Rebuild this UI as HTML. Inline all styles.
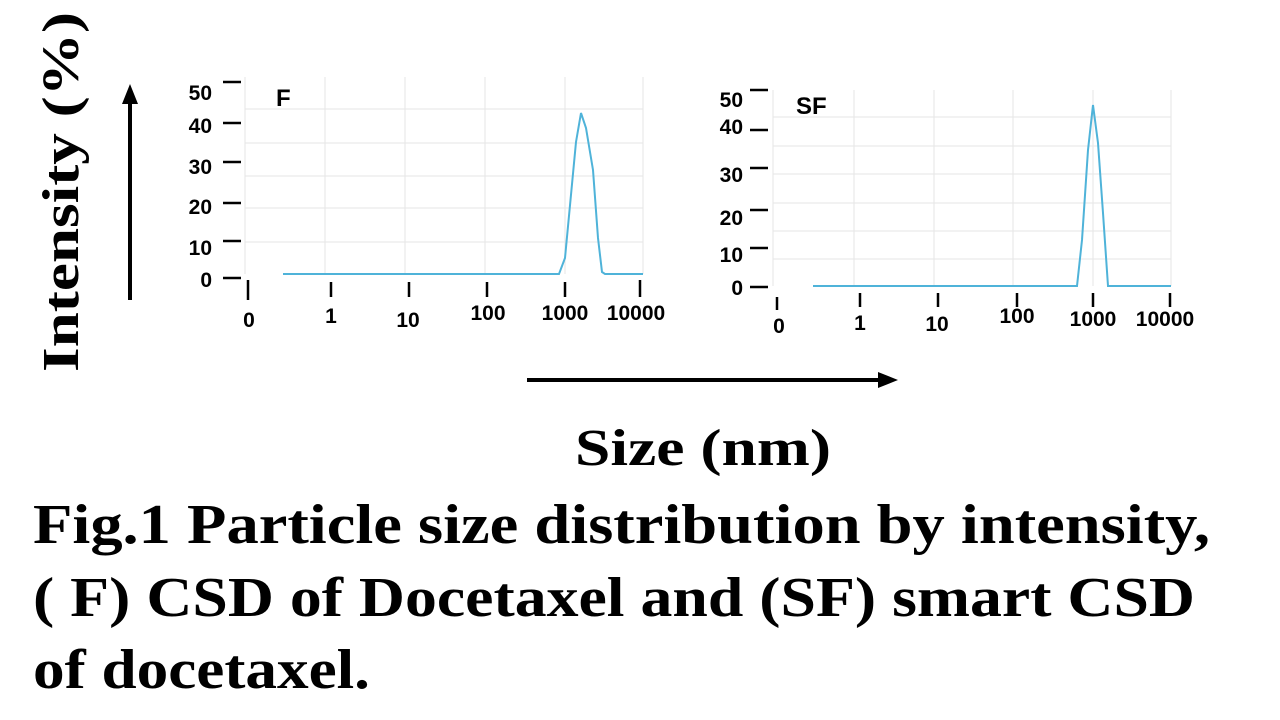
<!DOCTYPE html>
<html><head><style>html,body{margin:0;padding:0;background:#fff}svg{display:block}</style></head><body>
<svg width="1280" height="720" viewBox="0 0 1280 720" xmlns="http://www.w3.org/2000/svg">
<rect width="1280" height="720" fill="#fff"/>
<g stroke="#e6e6e6" stroke-width="1">
<line x1="245" y1="109" x2="643" y2="109"/><line x1="245" y1="143" x2="643" y2="143"/><line x1="245" y1="176" x2="643" y2="176"/><line x1="245" y1="208" x2="643" y2="208"/><line x1="245" y1="242" x2="643" y2="242"/>
<line x1="325" y1="77" x2="325" y2="274"/><line x1="405" y1="77" x2="405" y2="274"/><line x1="485" y1="77" x2="485" y2="274"/><line x1="565" y1="77" x2="565" y2="274"/><line x1="643" y1="77" x2="643" y2="274"/><line x1="245" y1="77" x2="245" y2="274"/>
<line x1="773" y1="117" x2="1171" y2="117"/><line x1="773" y1="146" x2="1171" y2="146"/><line x1="773" y1="174" x2="1171" y2="174"/><line x1="773" y1="203" x2="1171" y2="203"/><line x1="773" y1="231" x2="1171" y2="231"/><line x1="773" y1="259" x2="1171" y2="259"/>
<line x1="854" y1="90" x2="854" y2="286"/><line x1="934" y1="90" x2="934" y2="286"/><line x1="1013" y1="90" x2="1013" y2="286"/><line x1="1093" y1="90" x2="1093" y2="286"/><line x1="1171" y1="90" x2="1171" y2="286"/><line x1="773" y1="90" x2="773" y2="286"/>
</g>
<polyline fill="none" stroke="#4fb3d9" stroke-width="2" points="283,274 559,274 565,258 576,142 581,113 586,128 593,170 598,238 602,272 605,274 643,274"/>
<polyline fill="none" stroke="#4fb3d9" stroke-width="2" points="813,286 1077,286 1082,240 1088,150 1093,105 1098,143 1103,213 1108,286 1171,286"/>
<g stroke="#000" stroke-width="2.5">
<line x1="223" y1="82" x2="241" y2="82"/><line x1="223" y1="123" x2="241" y2="123"/><line x1="223" y1="162" x2="241" y2="162"/><line x1="223" y1="203" x2="241" y2="203"/><line x1="223" y1="241" x2="241" y2="241"/><line x1="223" y1="278" x2="241" y2="278"/>
<line x1="248" y1="280" x2="248" y2="300"/><line x1="331" y1="282" x2="331" y2="297"/><line x1="409" y1="282" x2="409" y2="297"/><line x1="487" y1="282" x2="487" y2="297"/><line x1="565" y1="282" x2="565" y2="297"/><line x1="640" y1="280" x2="640" y2="297"/>
<line x1="750" y1="90" x2="768" y2="90"/><line x1="750" y1="130" x2="768" y2="130"/><line x1="750" y1="168" x2="768" y2="168"/><line x1="750" y1="210" x2="768" y2="210"/><line x1="750" y1="248" x2="768" y2="248"/><line x1="750" y1="287" x2="768" y2="287"/>
<line x1="777" y1="297" x2="777" y2="310"/><line x1="860" y1="293" x2="860" y2="307"/><line x1="938" y1="293" x2="938" y2="307"/><line x1="1017" y1="293" x2="1017" y2="307"/><line x1="1093" y1="293" x2="1093" y2="307"/><line x1="1170" y1="293" x2="1170" y2="307"/>
</g>
<g font-family="Liberation Sans, sans-serif" font-weight="bold" font-size="21" fill="#000">
<g text-anchor="end">
<text x="212" y="100">50</text><text x="212" y="133">40</text><text x="212" y="174">30</text><text x="212" y="214">20</text><text x="212" y="255">10</text><text x="212" y="287">0</text>
<text x="743" y="107">50</text><text x="743" y="134">40</text><text x="743" y="182">30</text><text x="743" y="225">20</text><text x="743" y="262">10</text><text x="743" y="295">0</text>
</g>
<g text-anchor="middle">
<text x="249" y="327">0</text><text x="331" y="323">1</text><text x="408" y="327">10</text><text x="488" y="320">100</text><text x="565" y="320">1000</text><text x="636" y="320">10000</text>
<text x="779" y="333">0</text><text x="860" y="330">1</text><text x="937" y="331">10</text><text x="1017" y="323">100</text><text x="1093" y="326">1000</text><text x="1165" y="326">10000</text>
</g>
<text x="276" y="106" font-size="24">F</text>
<text x="796" y="114" font-size="24">SF</text>
</g>
<g stroke="#000" stroke-width="4"><line x1="130" y1="300" x2="130" y2="100"/><line x1="527" y1="380" x2="882" y2="380"/></g>
<polygon points="130,84 122,104 138,104" fill="#000"/>
<polygon points="898,380 878,372 878,388" fill="#000"/>
<g font-family="Liberation Serif, serif" font-weight="bold" fill="#000">
<text transform="translate(78,372) rotate(-90)" font-size="52" textLength="360" lengthAdjust="spacingAndGlyphs">Intensity (%)</text>
<text x="575" y="465" font-size="52" textLength="256" lengthAdjust="spacingAndGlyphs">Size (nm)</text>
<text x="33" y="543" font-size="56" textLength="1177" lengthAdjust="spacingAndGlyphs">Fig.1 Particle size distribution by intensity,</text>
<text x="33" y="616" font-size="56" textLength="1162" lengthAdjust="spacingAndGlyphs">( F) CSD of Docetaxel and (SF) smart CSD</text>
<text x="33" y="688" font-size="56" textLength="337" lengthAdjust="spacingAndGlyphs">of docetaxel.</text>
</g>
</svg>
</body></html>
